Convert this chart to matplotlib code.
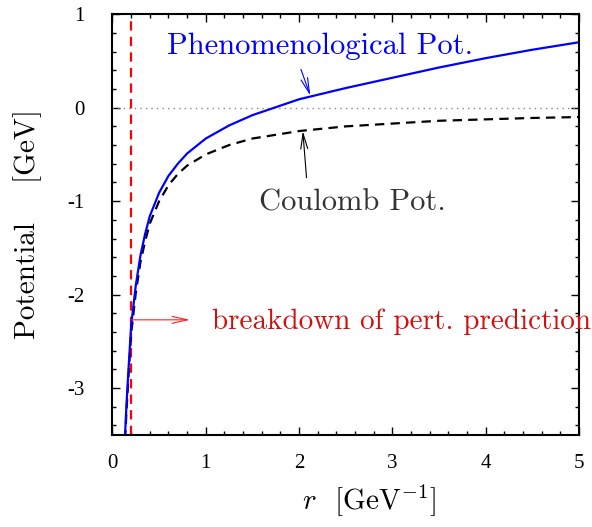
import matplotlib
matplotlib.use("Agg")
import matplotlib.pyplot as plt

plt.rcParams["mathtext.fontset"] = "cm"
plt.rcParams["axes.unicode_minus"] = False

# values
r = [0.135, 0.15, 0.17, 0.2, 0.25, 0.3, 0.35, 0.4, 0.5, 0.6, 0.7, 0.8,
     1.0, 1.25, 1.5, 2.0, 2.5, 3.0, 3.5, 4.0, 4.5, 5.0]
v_phen = [-3.50, -3.18, -2.83, -2.33, -1.90, -1.58, -1.35, -1.16, -0.91,
          -0.73, -0.60, -0.49, -0.33, -0.19, -0.08, 0.09, 0.21, 0.32, 0.43,
          0.53, 0.62, 0.70]
v_coul = [-3.55, -3.25, -2.90, -2.42, -1.98, -1.65, -1.43, -1.24, -1.00,
          -0.83, -0.71, -0.62, -0.50, -0.40, -0.33, -0.25, -0.20, -0.17,
          -0.14, -0.125, -0.11, -0.10]
r_breakdown = 0.2

xticks = [0, 1, 2, 3, 4, 5]
xtick_labels = ["0", "1", "2", "3", "4", "5"]
yticks = [-3, -2, -1, 0, 1]
ytick_labels = ["-3", "-2", "-1", "0", "1"]

fig = plt.figure(figsize=(5.92, 5.27), dpi=100)
ax = fig.add_axes([0.19, 0.175, 0.788, 0.798])

ax.axhline(0, color="#888888", lw=1.0, ls=(0, (1, 3)))
ax.axvline(r_breakdown, color="#ff0000", lw=1.6, ls=(0, (4.2, 2.8)))
ax.plot(r, v_coul, color="black", lw=1.6, ls=(0, (4.2, 2.8)))
ax.plot(r, v_phen, color="#0000ff", lw=1.6)

ax.set_xlim(0, 5)
ax.set_ylim(-3.5, 1)
ax.set_xticks(xticks, labels=xtick_labels)
ax.set_yticks(yticks, labels=ytick_labels)
ax.set_xticks([i * 0.2 for i in range(26)], minor=True)
ax.set_yticks([-3.4 + i * 0.2 for i in range(23)], minor=True)
ax.tick_params(which="both", direction="in", top=True, right=True,
               width=1.0)
ax.tick_params(which="major", length=6)
ax.tick_params(which="minor", length=3)
ax.tick_params(axis="y", pad=20)
ax.tick_params(axis="x", pad=14)
for lab in ax.get_xticklabels() + ax.get_yticklabels():
    lab.set_fontfamily("Liberation Serif")
    lab.set_fontsize(15)
for s in ax.spines.values():
    s.set_linewidth(1.5)

ax.set_xlabel(r"$r$  [GeV$^{-1}$]", fontsize=21, family="cmr10",
              labelpad=6, x=0.55)
ax.set_ylabel("Potential    [GeV]", fontsize=21, family="cmr10",
              labelpad=18)

arrow = "->,head_length=1.1,head_width=0.25"

ax.text(2.22, 0.66, "Phenomenological Pot.", color="#0000ff",
        fontsize=22, family="cmr10", ha="center", va="center")
ax.annotate("", xy=(2.12, 0.13), xytext=(2.02, 0.41),
            arrowprops=dict(arrowstyle=arrow, color="#0000ff", lw=0.8,
                            shrinkA=0, shrinkB=0))

ax.text(2.57, -1.02, "Coulomb Pot.", color="#333333",
        fontsize=22, family="cmr10", ha="center", va="center")
ax.annotate("", xy=(2.04, -0.25), xytext=(2.08, -0.75),
            arrowprops=dict(arrowstyle=arrow, color="black", lw=0.8,
                            shrinkA=0, shrinkB=0))

ax.text(1.07, -2.29, "breakdown of pert. prediction", color="#d01010",
        fontsize=21, family="cmr10", ha="left", va="center", clip_on=False)
ax.annotate("", xy=(0.83, -2.27), xytext=(0.2, -2.27),
            arrowprops=dict(arrowstyle=arrow, color="#ff2020", lw=0.8,
                            shrinkA=0, shrinkB=0))

fig.savefig("out.png", dpi=100)
